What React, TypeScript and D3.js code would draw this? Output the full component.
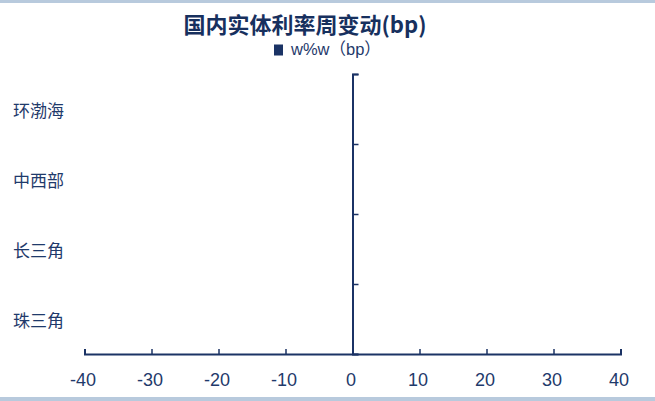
import React, { useEffect, useRef } from "react";
import * as d3 from "d3";

const categories = ["环渤海", "中西部", "长三角", "珠三角"];
const values = [0, 0, 0, 0];
const xTicks = [-40, -30, -20, -10, 0, 10, 20, 30, 40];
const title = "国内实体利率周变动(bp)";
const legendLabel = "w%w（bp）";

const W = 655, H = 401;
const NAVY = "#1B3365";
const TEXT = "#1F3A6B";

export default function App() {
  const ref = useRef<SVGSVGElement>(null);
  useEffect(() => {
    const svg = d3.select(ref.current);
    svg.selectAll("*").remove();
    const font = "'Liberation Sans', Arial, sans-serif";

    svg.append("rect").attr("x", 0).attr("y", 0).attr("width", W).attr("height", 3).attr("fill", "#B8CADD");
    svg.append("rect").attr("x", 0).attr("y", 397).attr("width", W).attr("height", 4).attr("fill", "#B8CADD");

    const x = d3.scaleLinear().domain([-40, 40]).range([84.5, 620.5]);
    const y = d3.scaleBand().domain(categories).range([74, 354]).padding(0.3);

    // bars
    svg.append("g").selectAll("rect").data(values).join("rect")
      .attr("x", (d) => x(Math.min(0, d)))
      .attr("y", (_, i) => y(categories[i])!)
      .attr("width", (d) => Math.abs(x(d) - x(0)))
      .attr("height", y.bandwidth())
      .attr("fill", NAVY);

    // x axis
    const gx = svg.append("g").attr("transform", "translate(0,354)")
      .call(d3.axisBottom(x).tickValues(xTicks).tickSize(-5).tickPadding(19).tickFormat((d) => String(d)));
    gx.select(".domain").attr("stroke", NAVY).attr("stroke-width", 2);
    gx.selectAll(".tick line").attr("stroke", NAVY).attr("stroke-width", 1.5);
    gx.selectAll(".tick text").attr("fill", TEXT).attr("font-size", 18).attr("dx", -2).attr("font-family", font);

    // y axis at zero
    const yl = d3.scaleLinear().domain([0, categories.length]).range([354, 74]);
    const gy = svg.append("g").attr("transform", `translate(${x(0)},0)`)
      .call(d3.axisRight(yl).ticks(categories.length).tickSize(6).tickFormat(() => ""));
    gy.select(".domain").attr("stroke", NAVY).attr("stroke-width", 2);
    gy.selectAll(".tick line").attr("stroke", NAVY).attr("stroke-width", 1.5);

    // category labels
    const yc = d3.scaleBand().domain(categories).range([74, 354]);
    svg.append("g").selectAll("text").data(categories).join("text")
      .attr("x", 13).attr("y", (d) => yc(d)! + yc.bandwidth() / 2 + 3)
      .attr("dominant-baseline", "middle")
      .attr("fill", TEXT).attr("font-size", 17)
      .attr("font-family", "'Noto Sans CJK SC', sans-serif")
      .text((d) => d);

    // title
    svg.append("text").attr("x", 305).attr("y", 33).attr("text-anchor", "middle")
      .attr("font-size", 22).attr("font-weight", "bold").attr("fill", "#17305E")
      .attr("font-family", "'Noto Sans CJK SC', 'Liberation Sans', sans-serif")
      .text(title);

    // legend
    svg.append("rect").attr("x", 274).attr("y", 44.5).attr("width", 9).attr("height", 11).attr("fill", NAVY);
    svg.append("text").attr("x", 291).attr("y", 55)
      .attr("font-size", 16.5).attr("fill", TEXT)
      .attr("font-family", "'Liberation Sans', 'Noto Sans CJK SC', sans-serif")
      .text(legendLabel);
  }, []);
  return (
    <svg ref={ref} width={W} height={H} style={{ position: "absolute", left: 0, top: 0, background: "#fff" }} />
  );
}
